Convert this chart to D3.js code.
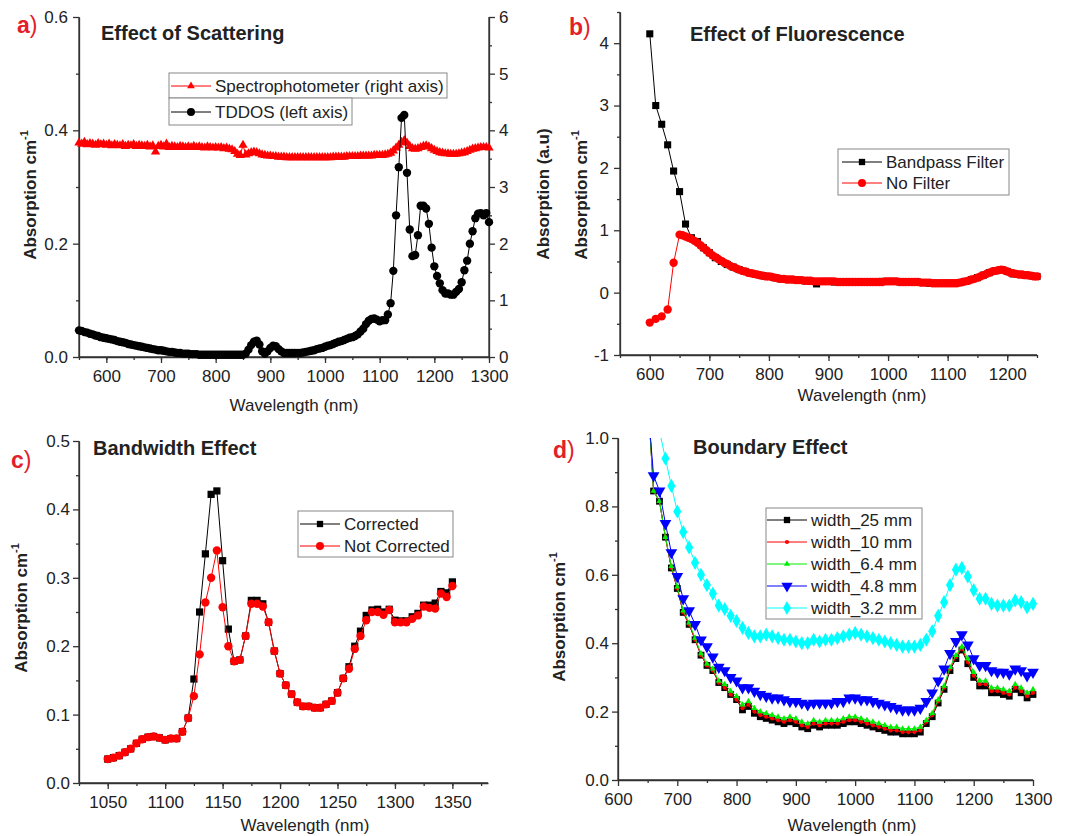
<!DOCTYPE html>
<html>
<head>
<meta charset="utf-8">
<script src="https://cdn.jsdelivr.net/npm/d3@7"></script>
<style>
  body { margin: 0; background: #fff; }
  text { font-family: Arial, "Liberation Sans", sans-serif; fill: #222; }
</style>
</head>
<body>
<svg id="chart" width="1073" height="836"></svg>
<script>
// ---- a) Effect of Scattering : 550..1300 nm, step 5
const scatStart = 550, scatStep = 5;
const spectro = [
  3.78, 3.76, 3.79, 3.75, 3.77, 3.76, 3.74, 3.77, 3.75, 3.76,
  3.74, 3.76, 3.73, 3.75, 3.74, 3.73, 3.75, 3.72, 3.74, 3.73,
  3.75, 3.72, 3.74, 3.73, 3.72, 3.74, 3.71, 3.73, 3.62, 3.72,
  3.74, 3.71, 3.76, 3.70, 3.72, 3.71, 3.70, 3.72, 3.71, 3.70,
  3.71, 3.70, 3.72, 3.70, 3.71, 3.70, 3.69, 3.71, 3.70, 3.69,
  3.70, 3.69, 3.70, 3.68, 3.69, 3.67, 3.66, 3.63, 3.58, 3.56,
  3.74, 3.57, 3.59, 3.61, 3.62, 3.61, 3.59, 3.57, 3.56, 3.55,
  3.55, 3.54, 3.54, 3.53, 3.53, 3.53, 3.52, 3.52, 3.52, 3.52,
  3.52, 3.52, 3.52, 3.52, 3.52, 3.52, 3.52, 3.52, 3.52, 3.52,
  3.52, 3.52, 3.52, 3.53, 3.53, 3.53, 3.53, 3.53, 3.54, 3.54,
  3.54, 3.54, 3.54, 3.55, 3.55, 3.55, 3.55, 3.55, 3.56, 3.56,
  3.56, 3.56, 3.57, 3.58, 3.60, 3.64, 3.69, 3.74, 3.79, 3.82,
  3.78, 3.72, 3.68, 3.67, 3.68, 3.70, 3.72, 3.73, 3.71, 3.68,
  3.65, 3.63, 3.61, 3.60, 3.59, 3.59, 3.58, 3.58, 3.58, 3.59,
  3.60, 3.61, 3.63, 3.65, 3.67, 3.68, 3.69, 3.70, 3.70, 3.70,
  3.69
];
// TDDOS below 1050 nm; above that it is the corrected curve of panel c
const tddosLow = [
  0.047, 0.046, 0.044, 0.043, 0.041, 0.040, 0.038, 0.037, 0.035, 0.034,
  0.033, 0.032, 0.031, 0.030, 0.028, 0.027, 0.026, 0.025, 0.023, 0.022,
  0.021, 0.020, 0.019, 0.018, 0.017, 0.016, 0.015, 0.014, 0.013, 0.012,
  0.012, 0.011, 0.010, 0.009, 0.009, 0.008, 0.007, 0.007, 0.006, 0.006,
  0.006, 0.005, 0.005, 0.005, 0.004, 0.004, 0.004, 0.004, 0.004, 0.004,
  0.004, 0.004, 0.004, 0.004, 0.004, 0.004, 0.004, 0.004, 0.004, 0.004,
  0.004, 0.006, 0.013, 0.021, 0.027, 0.029, 0.022, 0.010, 0.006, 0.010,
  0.016, 0.020, 0.019, 0.014, 0.010, 0.007, 0.007, 0.007, 0.007, 0.007,
  0.007, 0.007, 0.008, 0.009, 0.010, 0.011, 0.012, 0.014, 0.015, 0.016,
  0.018, 0.020, 0.021, 0.023, 0.025, 0.027, 0.028, 0.030, 0.032, 0.034
];

// ---- b) Effect of Fluorescence
const bandStart = 600, bandStep = 10;
const bandpass = [
  4.15, 3.00, 2.70, 2.37, 1.95, 1.62, 1.10, 0.88, 0.82, 0.72,
  0.64, 0.56, 0.50, 0.45, 0.41, 0.37, 0.34, 0.31, 0.29, 0.27,
  0.26, 0.24, 0.22, 0.21, 0.21, 0.20, 0.19, 0.18, 0.14, 0.18,
  0.18, 0.17, 0.17, 0.17, 0.17, 0.17, 0.17, 0.17, 0.17, 0.18,
  0.18, 0.18, 0.17, 0.17, 0.17, 0.17, 0.16, 0.15, 0.15, 0.15,
  0.15, 0.15, 0.16, 0.18, 0.21, 0.24, 0.28, 0.32, 0.35, 0.37,
  0.34, 0.30, 0.29, 0.28, 0.27, 0.26
];
const noFilterWl = [600, 610, 620, 630, 640, 650];
const noFilterLow = [-0.48, -0.42, -0.38, -0.27, 0.48, 0.93];
const noFilterStart = 655, noFilterStep = 5;
const noFilter = [
  0.92, 0.90, 0.88, 0.86, 0.83, 0.80, 0.76, 0.72, 0.68, 0.64,
  0.60, 0.57, 0.54, 0.51, 0.48, 0.46, 0.43, 0.41, 0.39, 0.37,
  0.35, 0.34, 0.32, 0.31, 0.30, 0.29, 0.28, 0.27, 0.26, 0.26,
  0.25, 0.24, 0.23, 0.22, 0.22, 0.21, 0.21, 0.21, 0.20, 0.20,
  0.20, 0.19, 0.19, 0.19, 0.18, 0.18, 0.18, 0.18, 0.18, 0.18,
  0.18, 0.18, 0.17, 0.17, 0.17, 0.17, 0.17, 0.17, 0.17, 0.17,
  0.17, 0.17, 0.17, 0.17, 0.17, 0.17, 0.17, 0.17, 0.18, 0.18,
  0.18, 0.18, 0.18, 0.17, 0.17, 0.17, 0.17, 0.17, 0.17, 0.17,
  0.16, 0.16, 0.16, 0.16, 0.15, 0.15, 0.15, 0.15, 0.15, 0.15,
  0.15, 0.15, 0.15, 0.16, 0.17, 0.18, 0.19, 0.21, 0.22, 0.24,
  0.26, 0.28, 0.30, 0.32, 0.34, 0.35, 0.36, 0.37, 0.36, 0.34,
  0.32, 0.31, 0.30, 0.29, 0.29, 0.28, 0.28, 0.27, 0.26, 0.26
];

// ---- c) Bandwidth Effect : 1050..1350 nm, step 5
const bwStart = 1050, bwStep = 5;
const corrected = [
  0.035, 0.037, 0.040, 0.045, 0.050, 0.058, 0.064, 0.067, 0.068, 0.066,
  0.063, 0.065, 0.065, 0.075, 0.095, 0.152, 0.250, 0.335, 0.422, 0.427,
  0.325, 0.225, 0.178, 0.180, 0.215, 0.267, 0.267, 0.262, 0.235, 0.193,
  0.160, 0.143, 0.130, 0.118, 0.112, 0.112, 0.110, 0.110, 0.115, 0.120,
  0.132, 0.153, 0.170, 0.200, 0.222, 0.245, 0.253, 0.254, 0.250, 0.254,
  0.238, 0.237, 0.237, 0.243, 0.248, 0.260, 0.260, 0.263, 0.280, 0.278,
  0.294
];
const notCorrected = [
  0.035, 0.037, 0.040, 0.045, 0.050, 0.058, 0.064, 0.067, 0.068, 0.066,
  0.063, 0.065, 0.065, 0.075, 0.095, 0.127, 0.188, 0.264, 0.300, 0.340,
  0.257, 0.200, 0.178, 0.180, 0.215, 0.262, 0.262, 0.258, 0.235, 0.193,
  0.160, 0.143, 0.130, 0.118, 0.112, 0.112, 0.110, 0.110, 0.115, 0.120,
  0.132, 0.153, 0.167, 0.196, 0.215, 0.238, 0.250, 0.250, 0.246, 0.253,
  0.235, 0.235, 0.235, 0.240, 0.245, 0.258, 0.256, 0.255, 0.277, 0.272,
  0.288
];

// ---- d) Boundary Effect : 650..1300 nm, step 10 (3.2 mm starts at 670)
const bdStart = 650, bdStep = 10, cyanStart = 670;
const w25 = [
  1.13, 0.845, 0.815, 0.71, 0.62, 0.56, 0.49, 0.455, 0.41, 0.365,
  0.335, 0.32, 0.285, 0.27, 0.25, 0.235, 0.205, 0.215, 0.195, 0.185,
  0.18, 0.175, 0.17, 0.165, 0.17, 0.165, 0.155, 0.15, 0.16, 0.155,
  0.16, 0.16, 0.16, 0.165, 0.17, 0.17, 0.165, 0.16, 0.155, 0.15,
  0.145, 0.14, 0.14, 0.135, 0.135, 0.135, 0.14, 0.165, 0.185, 0.225,
  0.265, 0.32, 0.355, 0.38, 0.34, 0.30, 0.275, 0.275, 0.255, 0.255,
  0.25, 0.245, 0.265, 0.255, 0.24, 0.25
];
const w10 = [
  1.13, 0.845, 0.815, 0.71, 0.62, 0.56, 0.49, 0.455, 0.41, 0.365,
  0.335, 0.32, 0.285, 0.27, 0.25, 0.235, 0.21, 0.22, 0.20, 0.19,
  0.185, 0.18, 0.175, 0.17, 0.175, 0.17, 0.16, 0.155, 0.165, 0.16,
  0.165, 0.165, 0.165, 0.17, 0.175, 0.175, 0.17, 0.165, 0.16, 0.155,
  0.15, 0.145, 0.145, 0.14, 0.14, 0.14, 0.145, 0.17, 0.19, 0.23,
  0.27, 0.325, 0.36, 0.385, 0.345, 0.305, 0.28, 0.28, 0.26, 0.26,
  0.255, 0.25, 0.27, 0.26, 0.245, 0.255
];
const w64 = [
  1.13, 0.845, 0.815, 0.71, 0.625, 0.565, 0.495, 0.46, 0.415, 0.37,
  0.34, 0.325, 0.29, 0.28, 0.26, 0.245, 0.22, 0.23, 0.21, 0.20,
  0.195, 0.19, 0.185, 0.18, 0.185, 0.18, 0.17, 0.165, 0.175, 0.17,
  0.175, 0.175, 0.175, 0.18, 0.185, 0.185, 0.18, 0.175, 0.17, 0.165,
  0.16, 0.155, 0.155, 0.15, 0.15, 0.15, 0.155, 0.175, 0.195, 0.235,
  0.275, 0.33, 0.365, 0.39, 0.355, 0.315, 0.29, 0.29, 0.27, 0.27,
  0.265, 0.26, 0.28, 0.27, 0.255, 0.265
];
const w48 = [
  1.10, 0.89, 0.845, 0.75, 0.665, 0.595, 0.53, 0.495, 0.455, 0.41,
  0.39, 0.36, 0.33, 0.32, 0.30, 0.29, 0.27, 0.27, 0.26, 0.25,
  0.245, 0.24, 0.24, 0.235, 0.23, 0.23, 0.225, 0.22, 0.225, 0.225,
  0.225, 0.225, 0.23, 0.23, 0.24, 0.24, 0.235, 0.235, 0.23, 0.225,
  0.22, 0.215, 0.21, 0.205, 0.205, 0.205, 0.21, 0.23, 0.255, 0.29,
  0.325, 0.37, 0.405, 0.425, 0.395, 0.355, 0.335, 0.335, 0.32, 0.315,
  0.315, 0.31, 0.325, 0.32, 0.305, 0.315
];
const w32 = [
  1.02, 0.94, 0.86, 0.785, 0.725, 0.68, 0.635, 0.60, 0.57, 0.545,
  0.51, 0.50, 0.48, 0.465, 0.445, 0.43, 0.42, 0.42, 0.425, 0.42,
  0.415, 0.41, 0.41, 0.405, 0.40, 0.40, 0.41, 0.405, 0.41, 0.41,
  0.415, 0.42, 0.425, 0.43, 0.425, 0.42, 0.415, 0.41, 0.405, 0.40,
  0.395, 0.39, 0.39, 0.39, 0.395, 0.41, 0.435, 0.48, 0.52, 0.57,
  0.615, 0.62, 0.595, 0.555, 0.53, 0.53, 0.515, 0.51, 0.51, 0.51,
  0.525, 0.52, 0.505, 0.515
];

const RED = '#ff0000', AX = '#333';
const svg = d3.select('#chart');

// pair values with wavelengths
const pts = (vals, start, step) => vals.map((v, i) => [start + i * step, v]);

function axis(g, gen, major, minor, fmt, transform, pad) {
  const a = g.append('g').attr('transform', transform);
  a.call(gen.tickValues(minor).tickSize(3).tickSizeOuter(0).tickFormat(''));
  a.select('.domain').remove();
  const b = g.append('g').attr('transform', transform);
  b.call(gen.tickValues(major).tickSize(6).tickSizeOuter(0).tickPadding(pad).tickFormat(fmt));
  g.selectAll('.domain, .tick line').attr('stroke', AX).attr('stroke-width', 1.3);
  b.selectAll('text').attr('font-size', 17).attr('fill', '#222')
    .style('font-family', 'Arial, "Liberation Sans", sans-serif');
}

function series(g, x, y, data, color, sym, size, rot) {
  g.append('path').datum(data)
    .attr('fill', 'none').attr('stroke', color).attr('stroke-width', 1)
    .attr('d', d3.line().x(d => x(d[0])).y(d => y(d[1])));
  g.selectAll(null).data(data).enter().append('path')
    .attr('d', d3.symbol().type(sym).size(size))
    .attr('transform', d => `translate(${x(d[0])},${y(d[1])})` + (rot ? ' rotate(180)' : ''))
    .attr('fill', color);
}

function legendRow(g, x0, cy, color, sym, size, rot, label) {
  g.append('line').attr('x1', x0).attr('x2', x0 + 40).attr('y1', cy).attr('y2', cy)
    .attr('stroke', color).attr('stroke-width', 1);
  g.append('path').attr('d', d3.symbol().type(sym).size(size)())
    .attr('transform', `translate(${x0 + 20},${cy})` + (rot ? ' rotate(180)' : ''))
    .attr('fill', color);
  g.append('text').attr('x', x0 + 44).attr('y', cy + 6).attr('font-size', 17).text(label);
}

function legendBox(g, x, y, w, h) {
  g.append('rect').attr('x', x).attr('y', y).attr('width', w).attr('height', h)
    .attr('fill', '#fff').attr('stroke', '#888').attr('stroke-width', 1);
}

function panelTag(letter, x, y) {
  const t = svg.append('text').attr('x', x).attr('y', y).attr('font-size', 23);
  t.append('tspan').attr('font-weight', 'bold').attr('fill', '#e3202a').text(letter);
  t.append('tspan').attr('fill', '#e3202a').text(')');
}

function title(txt, x, y) {
  svg.append('text').attr('x', x).attr('y', y).attr('font-size', 20)
    .attr('font-weight', 'bold').text(txt);
}

function yLabel(x, y, main, sup) {
  const t = svg.append('text')
    .attr('transform', `translate(${x},${y}) rotate(-90)`)
    .attr('text-anchor', 'middle').attr('dy', '0.35em')
    .attr('font-size', 17).attr('font-weight', 'bold');
  t.append('tspan').text(main);
  if (sup) t.append('tspan').attr('font-size', 11).attr('dy', '-0.7em').text(sup);
}

function xLabel(x, y) {
  svg.append('text').attr('x', x).attr('y', y).attr('text-anchor', 'middle')
    .attr('font-size', 17).text('Wavelength (nm)');
}

const f1 = d3.format('.1f');
const fInt = d => String(d);

// ================= a) =================
{
  const x = d3.scaleLinear().domain([550, 1300]).range([79, 489]);
  const yL = d3.scaleLinear().domain([0, 0.6]).range([357, 17]);
  const yR = d3.scaleLinear().domain([0, 6]).range([357, 17]);
  const g = svg.append('g');
  axis(g, d3.axisBottom(x), d3.range(600, 1301, 100), d3.range(550, 1301, 50), fInt, 'translate(0,357)', 7);
  axis(g, d3.axisLeft(yL), [0, 0.2, 0.4, 0.6], [0.1, 0.3, 0.5], f1, 'translate(79,0)', 5);
  axis(g, d3.axisRight(yR), d3.range(0, 7, 1), d3.range(0.5, 6, 1), fInt, 'translate(489,0)', 4);
  g.append('line').attr('x1', 79).attr('x2', 489).attr('y1', 357).attr('y2', 357).attr('stroke', AX).attr('stroke-width', 1.3);
  g.append('line').attr('x1', 79).attr('x2', 79).attr('y1', 17).attr('y2', 357).attr('stroke', AX).attr('stroke-width', 1.3);
  g.append('line').attr('x1', 489).attr('x2', 489).attr('y1', 17).attr('y2', 357).attr('stroke', AX).attr('stroke-width', 1.3);

  const tddos = pts(tddosLow.concat(corrected.slice(0, 51)), scatStart, scatStep);
  series(g, x, yR, pts(spectro, scatStart, scatStep), RED, d3.symbolTriangle, 38);
  series(g, x, yL, tddos, '#000', d3.symbolCircle, 55);

  legendBox(g, 169, 73, 278, 25);
  legendBox(g, 169, 98, 183, 27);
  legendRow(g, 171, 86, RED, d3.symbolTriangle, 26, false, 'Spectrophotometer (right axis)');
  legendRow(g, 171, 112, '#000', d3.symbolCircle, 50, false, 'TDDOS (left axis)');

  panelTag('a', 17, 33);
  title('Effect of Scattering', 101, 40);
  yLabel(30, 195, 'Absorption cm', '-1');
  yLabel(543, 194, 'Absorption (a.u)');
  xLabel(294, 411);
}

// ================= b) =================
{
  const x = d3.scaleLinear().domain([550, 1250]).range([620, 1037]);
  const y = d3.scaleLinear().domain([-1, 4.5]).range([355, 12]);
  const g = svg.append('g');
  axis(g, d3.axisBottom(x), d3.range(600, 1201, 100), d3.range(550, 1251, 50), fInt, 'translate(0,355)', 7);
  axis(g, d3.axisLeft(y), d3.range(-1, 5, 1), d3.range(-0.5, 4.6, 1), fInt, 'translate(620,0)', 5);
  g.append('line').attr('x1', 620).attr('x2', 1037).attr('y1', 355).attr('y2', 355).attr('stroke', AX).attr('stroke-width', 1.3);
  g.append('line').attr('x1', 620).attr('x2', 620).attr('y1', 12).attr('y2', 355).attr('stroke', AX).attr('stroke-width', 1.3);

  const red = noFilterWl.map((w, i) => [w, noFilterLow[i]]).concat(pts(noFilter, noFilterStart, noFilterStep));
  series(g, x, y, pts(bandpass, bandStart, bandStep), '#000', d3.symbolSquare, 50);
  series(g, x, y, red, RED, d3.symbolCircle, 55);

  legendBox(g, 838, 149, 171, 46);
  legendRow(g, 842, 162, '#000', d3.symbolSquare, 40, false, 'Bandpass Filter');
  legendRow(g, 842, 183, RED, d3.symbolCircle, 50, false, 'No Filter');

  panelTag('b', 569, 35);
  title('Effect of Fluorescence', 690, 41);
  yLabel(581, 195, 'Absorption cm', '-1');
  xLabel(862, 401);
}

// ================= c) =================
{
  const x = d3.scaleLinear().domain([1025, 1381]).range([79, 488]);
  const y = d3.scaleLinear().domain([0, 0.5]).range([783, 441]);
  const g = svg.append('g');
  axis(g, d3.axisBottom(x), d3.range(1050, 1351, 50), d3.range(1025, 1381, 25), fInt, 'translate(0,783)', 7);
  axis(g, d3.axisLeft(y), [0, 0.1, 0.2, 0.3, 0.4, 0.5], [0.05, 0.15, 0.25, 0.35, 0.45], f1, 'translate(79,0)', 3);
  g.append('line').attr('x1', 79).attr('x2', 488).attr('y1', 783).attr('y2', 783).attr('stroke', AX).attr('stroke-width', 1.3);
  g.append('line').attr('x1', 79).attr('x2', 79).attr('y1', 441).attr('y2', 783).attr('stroke', AX).attr('stroke-width', 1.3);

  series(g, x, y, pts(corrected, bwStart, bwStep), '#000', d3.symbolSquare, 52);
  series(g, x, y, pts(notCorrected, bwStart, bwStep), RED, d3.symbolCircle, 55);

  legendBox(g, 298, 511, 155, 46);
  legendRow(g, 300, 524, '#000', d3.symbolSquare, 40, false, 'Corrected');
  legendRow(g, 300, 546, RED, d3.symbolCircle, 50, false, 'Not Corrected');

  panelTag('c', 11, 468);
  title('Bandwidth Effect', 93, 455);
  yLabel(21, 608, 'Absorption cm', '-1');
  xLabel(305, 831);
}

// ================= d) =================
{
  const x = d3.scaleLinear().domain([600, 1300]).range([618, 1033]);
  const y = d3.scaleLinear().domain([0, 1]).range([780, 438]);
  const g = svg.append('g');
  axis(g, d3.axisBottom(x), d3.range(600, 1301, 100), d3.range(650, 1300, 100), fInt, 'translate(0,780)', 7);
  axis(g, d3.axisLeft(y), [0, 0.2, 0.4, 0.6, 0.8, 1.0], [0.1, 0.3, 0.5, 0.7, 0.9], f1, 'translate(618,0)', 3);
  g.append('line').attr('x1', 618).attr('x2', 1033).attr('y1', 780).attr('y2', 780).attr('stroke', AX).attr('stroke-width', 1.3);
  g.append('line').attr('x1', 618).attr('x2', 618).attr('y1', 438).attr('y2', 780).attr('stroke', AX).attr('stroke-width', 1.3);

  svg.append('clipPath').attr('id', 'clipD').append('rect')
    .attr('x', 618).attr('y', 438).attr('width', 430).attr('height', 342);
  const p = g.append('g').attr('clip-path', 'url(#clipD)');
  series(p, x, y, pts(w25, bdStart, bdStep), '#000', d3.symbolSquare, 46);
  series(p, x, y, pts(w10, bdStart, bdStep), RED, d3.symbolCircle, 14);
  series(p, x, y, pts(w64, bdStart, bdStep), '#00ee00', d3.symbolTriangle, 16);
  series(p, x, y, pts(w48, bdStart, bdStep), '#0000ff', d3.symbolTriangle, 60, true);
  series(p, x, y, pts(w32, cyanStart, bdStep), '#00ffff', d3.symbolDiamond, 58);

  legendBox(g, 766, 508, 156, 111);
  legendRow(g, 767, 520, '#000', d3.symbolSquare, 40, false, 'width_25 mm');
  legendRow(g, 767, 542, RED, d3.symbolCircle, 14, false, 'width_10 mm');
  legendRow(g, 767, 564, '#00ee00', d3.symbolTriangle, 16, false, 'width_6.4 mm');
  legendRow(g, 767, 586, '#0000ff', d3.symbolTriangle, 55, true, 'width_4.8 mm');
  legendRow(g, 767, 608, '#00ffff', d3.symbolDiamond, 55, false, 'width_3.2 mm');

  panelTag('d', 553, 458);
  title('Boundary Effect', 693, 454);
  yLabel(559, 617, 'Absorption cm', '-1');
  xLabel(852, 831);
}
</script>
</body>
</html>
